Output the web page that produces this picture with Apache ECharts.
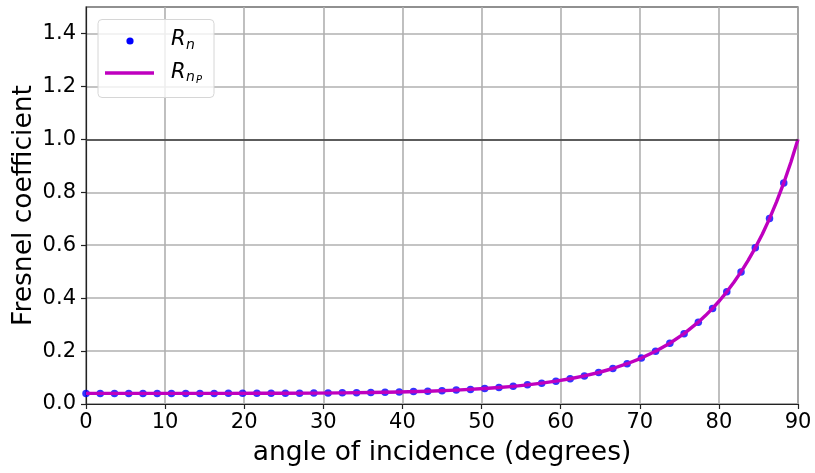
<!DOCTYPE html>
<html>
<head>
<meta charset="utf-8">
<script src="https://cdn.jsdelivr.net/npm/echarts@6/dist/echarts.min.js"></script>
<style>
  html, body { margin: 0; padding: 0; background: #fff; }
  #chart { width: 815px; height: 473px; }
</style>
</head>
<body>
<div id="chart"></div>
<script>
// angles of the sampled points (degrees)
const dotAngles = [0, 1.8, 3.6, 5.4, 7.2, 9, 10.8, 12.6, 14.4, 16.2, 18, 19.8, 21.6, 23.4, 25.2,
  27, 28.8, 30.6, 32.4, 34.2, 36, 37.8, 39.6, 41.4, 43.2, 45, 46.8, 48.6, 50.4, 52.2, 54, 55.8,
  57.6, 59.4, 61.2, 63, 64.8, 66.6, 68.4, 70.2, 72, 73.8, 75.6, 77.4, 79.2, 81, 82.8, 84.6, 86.4, 88.2]
// R_n
const dotValues = [0.0400, 0.0400, 0.0400, 0.0400, 0.0400, 0.0400, 0.0400, 0.0401, 0.0401, 0.0401,
  0.0402, 0.0403, 0.0404, 0.0405, 0.0407, 0.0409, 0.0412, 0.0416, 0.0421, 0.0428, 0.0435, 0.0444,
  0.0454, 0.0468, 0.0484, 0.0502, 0.0525, 0.0552, 0.0584, 0.0623, 0.0668, 0.0723, 0.0787, 0.0863,
  0.0954, 0.1062, 0.1190, 0.1341, 0.1522, 0.1736, 0.1992, 0.2296, 0.2659, 0.3093, 0.3613, 0.4239,
  0.4991, 0.5901, 0.7005, 0.8351]
// R_nP curve
const lineAngles = [0, 3.6, 7.2, 10.8, 14.4, 18, 21.6, 25.2, 28.8, 32.4, 36, 39.6, 43.2, 46.8, 50.4,
  52.2, 54, 55.8, 57.6, 59.4, 61.2, 63, 64.8, 66.6, 68.4, 70.2, 72, 73.8, 75.6, 77.4, 78.3, 79.2,
  80.1, 81, 81.9, 82.8, 83.7, 84.6, 85.5, 86.4, 87.3, 88.2, 89.1, 90]
const lineValues = [0.0400, 0.0400, 0.0400, 0.0400, 0.0401, 0.0402, 0.0404, 0.0407, 0.0412, 0.0421,
  0.0435, 0.0454, 0.0484, 0.0525, 0.0584, 0.0623, 0.0668, 0.0723, 0.0787, 0.0863, 0.0954, 0.1062,
  0.1190, 0.1341, 0.1522, 0.1736, 0.1992, 0.2296, 0.2659, 0.3093, 0.3341, 0.3613, 0.3911, 0.4239,
  0.4597, 0.4991, 0.5424, 0.5901, 0.6426, 0.7005, 0.7644, 0.8351, 0.9133, 1.0]
const xTicks = [0, 10, 20, 30, 40, 50, 60, 70, 80, 90]
const yTicks = [0, 0.2, 0.4, 0.6, 0.8, 1.0, 1.2, 1.4]

const font = 'DejaVu Sans'

const chart = echarts.init(document.getElementById('chart'))
const option = {
  animation: false,
  grid: {
    left: 86,
    top: 7,
    right: 17,
    bottom: 69,
    outerBoundsMode: 'none',
    show: true,
    borderColor: '#222',
    borderWidth: 1.2
  },
  xAxis: {
    type: 'value',
    min: 0,
    max: 90,
    interval: 10,
    name: 'angle of incidence (degrees)',
    nameLocation: 'middle',
    nameGap: 36,
    nameMoveOverlap: false,
    nameTextStyle: { fontFamily: font, fontSize: 26.5, color: '#000' },
    axisLine: { lineStyle: { color: '#222', width: 1.2 } },
    axisTick: { show: true, length: 5, lineStyle: { color: '#222', width: 1.2 }, customValues: xTicks },
    axisLabel: { fontFamily: font, fontSize: 21, color: '#000', margin: 8, customValues: xTicks },
    splitLine: { show: true, lineStyle: { color: '#b0b0b0', width: 1.6 } }
  },
  yAxis: {
    type: 'value',
    min: 0,
    max: 1.5,
    interval: 0.2,
    name: 'Fresnel coefficient',
    nameLocation: 'middle',
    nameGap: 48,
    nameMoveOverlap: false,
    nameTextStyle: { fontFamily: font, fontSize: 26.5, color: '#000' },
    axisLine: { show: true, lineStyle: { color: '#222', width: 1.2 } },
    axisTick: { show: true, length: 5, lineStyle: { color: '#222', width: 1.2 }, customValues: yTicks },
    axisLabel: {
      fontFamily: font,
      fontSize: 21,
      color: '#000',
      margin: 10,
      customValues: yTicks,
      formatter: v => v.toFixed(1)
    },
    splitLine: { show: true, lineStyle: { color: '#b0b0b0', width: 1.6 } }
  },
  series: [
    {
      name: 'Rn',
      type: 'scatter',
      symbol: 'circle',
      symbolSize: 7.5,
      itemStyle: { color: '#0000ff' },
      z: 2,
      data: dotAngles.map((a, i) => [a, dotValues[i]])
    },
    {
      name: 'RnP',
      type: 'line',
      symbol: 'none',
      smooth: false,
      lineStyle: { color: '#bf00bf', width: 3.4, join: 'round' },
      z: 3,
      data: lineAngles.map((a, i) => [a, lineValues[i]]),
      markLine: {
        silent: true,
        symbol: 'none',
        label: { show: false },
        lineStyle: { color: '#3a3a3a', width: 1.6, type: 'solid' },
        data: [{ yAxis: 1 }]
      }
    }
  ],
  // legend drawn by hand so the subscripts match
  graphic: [
    {
      type: 'rect',
      z: 10,
      shape: { x: 98, y: 19.5, width: 116, height: 78, r: 4 },
      style: { fill: 'rgba(255,255,255,0.8)', stroke: '#d6d6d6', lineWidth: 1 }
    },
    {
      type: 'circle',
      z: 11,
      shape: { cx: 130, cy: 41, r: 3.6 },
      style: { fill: '#0000ff' }
    },
    {
      type: 'line',
      z: 11,
      shape: { x1: 105, y1: 73, x2: 154, y2: 73 },
      style: { stroke: '#bf00bf', lineWidth: 3.4 }
    },
    { type: 'text', z: 11, x: 171, y: 39.5, style: { text: 'R', font: 'italic 21px "DejaVu Sans"', fill: '#000', verticalAlign: 'middle' } },
    { type: 'text', z: 11, x: 186, y: 45.5, style: { text: 'n', font: 'italic 14px "DejaVu Sans"', fill: '#000', verticalAlign: 'middle' } },
    { type: 'text', z: 11, x: 171, y: 73, style: { text: 'R', font: 'italic 21px "DejaVu Sans"', fill: '#000', verticalAlign: 'middle' } },
    { type: 'text', z: 11, x: 186, y: 77, style: { text: 'n', font: 'italic 14px "DejaVu Sans"', fill: '#000', verticalAlign: 'middle' } },
    { type: 'text', z: 11, x: 196, y: 80.5, style: { text: 'P', font: 'italic 10px "DejaVu Sans"', fill: '#000', verticalAlign: 'middle' } }
  ]
}
chart.setOption(option)
</script>
</body>
</html>
